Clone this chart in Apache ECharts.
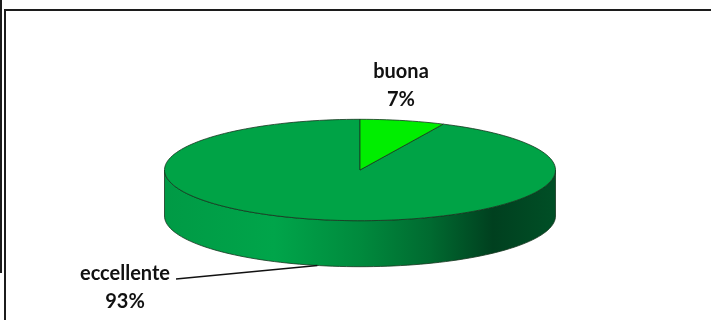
<!DOCTYPE html>
<html><head><meta charset="utf-8">
<script src="https://cdn.jsdelivr.net/npm/echarts@6/dist/echarts.min.js"></script>
<style>html,body{margin:0;padding:0;background:#fff}#c{width:711px;height:320px}</style>
</head><body><div id="c"></div>
<script>
// ---- data ----
const categories = ['eccellente', 'buona'];
const values = [93, 7];
const percentLabels = ['93%', '7%'];

// ---- layout / style ----
const CX = 360, CY = 170, RX = 195.5, RY = 50.7, DEPTH = 46;
const topColors = ['#00A346', '#00EE00'];
const labelLayout = {
  eccellente: { tx: 125, ty: 287.5, lineStart: [176, 279] },
  buona: { tx: 401, ty: 85.5 }
};

const total = values.reduce((a, b) => a + b, 0);
// Excel draws clockwise from 12 o'clock; buona first in reference
const order = [1, 0];
const angStart = {}, angEnd = {};
{ let acc = 0; order.forEach(i => { angStart[i] = acc / total * 2 * Math.PI; acc += values[i]; angEnd[i] = acc / total * 2 * Math.PI; }); }

function pt(th, dy) { return [CX + RX * Math.sin(th), CY - RY * Math.cos(th) + (dy || 0)]; }

const chart = echarts.init(document.getElementById('c'), null, { renderer: 'canvas' });
chart.setOption({
  backgroundColor: '#fff',
  animation: false,
  graphic: [
    { type: 'rect', shape: { x: 5, y: 10, width: 740, height: 340 }, style: { fill: 'none', stroke: '#1c1c1c', lineWidth: 2 }, z: 100 },
    { type: 'line', shape: { x1: 1, y1: 0, x2: 1, y2: 273 }, style: { stroke: '#1c1c1c', lineWidth: 2 }, z: 100 }
  ],
  series: [{
    type: 'custom',
    coordinateSystem: 'none',
    data: values.map((v, i) => ({ name: categories[i], value: v })),
    renderItem: function (params, api) {
      const i = params.dataIndex;
      const a0 = angStart[i], a1 = angEnd[i];
      const children = [];
      const n = Math.max(8, Math.ceil((a1 - a0) / (Math.PI / 90)));
      const topPts = [[CX, CY]];
      for (let k = 0; k <= n; k++) topPts.push(pt(a0 + (a1 - a0) * k / n));
      children.push({
        type: 'polygon', z2: 10,
        shape: { points: topPts },
        style: { fill: topColors[i], stroke: '#17361f', lineWidth: 0.8, lineJoin: 'round' }
      });
      const s0 = Math.max(a0, Math.PI / 2), s1 = Math.min(a1, 3 * Math.PI / 2);
      if (s1 > s0) {
        const m = Math.ceil((s1 - s0) / (Math.PI / 90));
        const sp = [];
        for (let k = 0; k <= m; k++) sp.push(pt(s0 + (s1 - s0) * k / m));
        for (let k = m; k >= 0; k--) sp.push(pt(s0 + (s1 - s0) * k / m, DEPTH));
        children.push({
          type: 'polygon', z2: 5,
          shape: { points: sp },
          style: {
            fill: new echarts.graphic.LinearGradient(CX - RX, 0, CX + RX, 0, [
              { offset: 0, color: '#009A45' },
              { offset: 0.28, color: '#00A54A' },
              { offset: 0.5, color: '#008A3D' },
              { offset: 0.68, color: '#006A30' },
              { offset: 0.84, color: '#00401F' },
              { offset: 1, color: '#004F26' }
            ], true),
            stroke: '#17361f', lineWidth: 0.8, lineJoin: 'round'
          }
        });
      }
      const lay = labelLayout[categories[i]];
      const mid = (a0 + a1) / 2;
      const txtStyle = { fontFamily: 'Lato', fontWeight: 'bold', fontSize: 20, fill: '#111', align: 'center', verticalAlign: 'middle', lineHeight: 28 };
      children.push({ type: 'text', z2: 20, style: Object.assign({ x: lay.tx, y: lay.ty, text: categories[i] + '\n' + percentLabels[i] }, txtStyle) });
      if (lay.lineStart) {
        const front = Math.cos(mid) < 0;
        const e = pt(mid, front ? DEPTH : 0);
        children.push({ type: 'line', z2: 20, shape: { x1: lay.lineStart[0], y1: lay.lineStart[1], x2: e[0], y2: e[1] }, style: { stroke: '#111', lineWidth: 1.3 } });
      }
      return { type: 'group', children: children };
    }
  }]
});
</script></body></html>
